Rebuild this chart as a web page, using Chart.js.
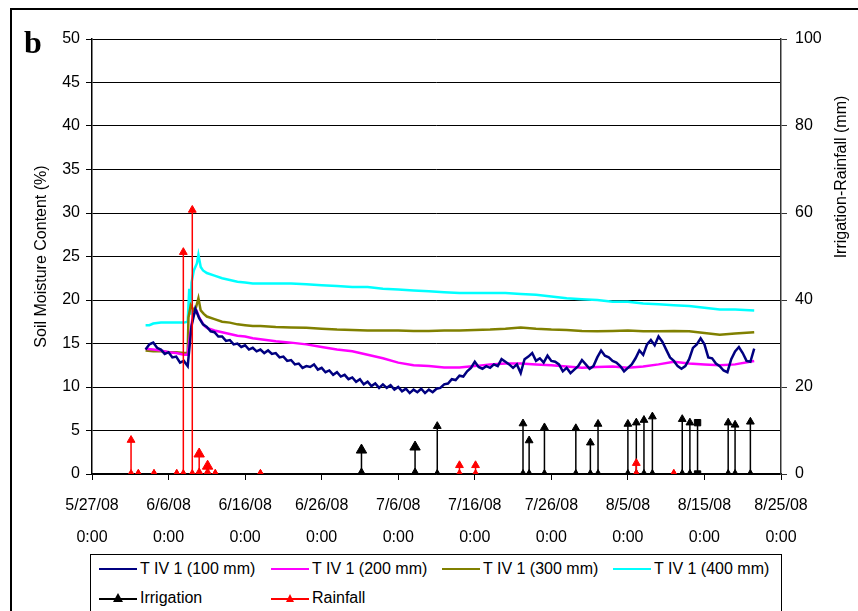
<!DOCTYPE html>
<html>
<head>
<meta charset="utf-8">
<script src="https://cdn.jsdelivr.net/npm/chart.js@4/dist/chart.umd.min.js"></script>
<style>
body { margin: 0; width: 858px; height: 611px; overflow: hidden; background: #fff; font-family: "Liberation Sans", Arial, sans-serif; }
#frame { position: absolute; left: 10px; top: 8px; width: 900px; height: 700px; border: 2px solid #000; }
#c { position: absolute; left: 0; top: 0; }
#tag { position: absolute; left: 24px; top: 24px; font: bold 32px "Liberation Serif", serif; }
#legend { position: absolute; left: 90px; top: 554px; width: 690px; height: 80px; border: 1px solid #000; background: #fff; }
.item { position: absolute; display: flex; align-items: center; font-size: 16px; transform: translateY(-50%); white-space: nowrap; }
.item svg { margin-right: 3px; }
</style>
</head>
<body>
<div id="frame"></div>
<canvas id="c" width="858" height="611"></canvas>
<div id="tag">b</div>
<div id="legend">
  <div class="item" style="left:8px;top:14px"><svg width="38" height="10"><line x1="0" y1="5" x2="38" y2="5" stroke="#000080" stroke-width="2"/></svg>T IV 1 (100 mm)</div>
  <div class="item" style="left:180px;top:14px"><svg width="38" height="10"><line x1="0" y1="5" x2="38" y2="5" stroke="#ff00ff" stroke-width="2"/></svg>T IV 1 (200 mm)</div>
  <div class="item" style="left:351px;top:14px"><svg width="38" height="10"><line x1="0" y1="5" x2="38" y2="5" stroke="#808000" stroke-width="2"/></svg>T IV 1 (300 mm)</div>
  <div class="item" style="left:522px;top:14px"><svg width="38" height="10"><line x1="0" y1="5" x2="38" y2="5" stroke="#00ffff" stroke-width="2"/></svg>T IV 1 (400 mm)</div>
  <div class="item" style="left:8px;top:43px"><svg width="38" height="12"><line x1="0" y1="7" x2="38" y2="7" stroke="#000" stroke-width="2"/><polygon points="19,1 24,10 14,10" fill="#000"/></svg>Irrigation</div>
  <div class="item" style="left:180px;top:43px"><svg width="38" height="12"><line x1="0" y1="7" x2="38" y2="7" stroke="#ff0000" stroke-width="2"/><polygon points="19,2 23,10 15,10" fill="#ff0000"/></svg>Rainfall</div>
</div>
<script>
// days counted from 5/27/08 0:00
const xTickDays = [0, 10, 20, 30, 40, 50, 60, 70, 80, 90];

// T IV 1 (100 mm): half-day readings starting at day 7
const d100Start = 7;
const d100Step = 0.5;
const d100Vals = [
  14.3, 14.9, 15.1, 14.5, 14.3, 13.8, 14.0, 13.4, 13.5, 12.8, 13.0, 12.4,
  17.0, 19.0, 17.9, 17.2, 16.9, 16.4, 16.3, 15.8, 15.8, 15.3, 15.4, 14.9,
  15.0, 14.6, 14.8, 14.3, 14.5, 14.1, 14.3, 13.9, 14.2, 13.8, 13.9, 13.4,
  13.5, 13.0, 13.1, 12.6, 12.7, 12.2, 12.4, 12.3, 12.6, 12.0, 12.2, 11.7,
  11.9, 11.4, 11.7, 11.2, 11.4, 10.9, 11.1, 10.6, 10.9, 10.3, 10.6, 10.1,
  10.4, 9.9, 10.3, 9.9, 10.2, 9.7, 10.0, 9.5, 9.8, 9.3, 9.7, 9.4,
  9.8, 9.3, 9.7, 9.4, 9.8, 9.9, 10.3, 10.4, 10.9, 10.8, 11.3, 11.2,
  11.8, 12.2, 12.9, 12.3, 12.1, 12.4, 12.2, 12.6, 12.4, 13.2, 12.9, 12.6,
  12.2, 12.6, 11.6, 13.2, 13.5, 13.9, 13.0, 13.3, 12.8, 13.6, 13.0, 12.9,
  12.6, 11.8, 12.2, 11.6, 12.0, 12.4, 13.1, 12.6, 12.1, 12.4, 13.4, 14.2,
  13.6, 13.4, 13.0, 12.8, 12.4, 11.8, 12.2, 12.6, 13.3, 14.2, 13.7, 14.9,
  15.4, 14.8, 15.8, 15.2, 14.3, 13.4, 13.0, 12.4, 12.1, 12.4, 13.2, 14.5,
  14.9, 15.6, 14.9, 13.4, 13.3, 12.7, 12.4, 11.9, 11.7, 13.2, 14.1, 14.6,
  13.9, 13.0, 12.9, 14.4
];

// T IV 1 (200 mm)
const d200Days = [7, 8, 9, 10, 11, 12, 12.5, 12.8, 13.2, 13.7, 14, 14.6, 15, 16, 17, 18, 19, 20, 21, 22, 24, 26, 28, 30, 32, 34, 36, 38, 40, 42, 44, 46, 48, 50, 52, 54, 56, 58, 60, 62, 64, 66, 68, 70, 72, 74, 76, 78, 80, 82, 84, 86.5];
const d200Vals = [14.4, 14.3, 14.2, 14.0, 13.9, 13.7, 13.7, 16.0, 18.3, 18.7, 18.0, 17.1, 16.8, 16.5, 16.3, 16.1, 15.9, 15.8, 15.6, 15.5, 15.25, 15.1, 14.9, 14.6, 14.3, 14.1, 13.7, 13.3, 12.8, 12.5, 12.4, 12.25, 12.25, 12.4, 12.6, 12.7, 12.7, 12.6, 12.5, 12.35, 12.2, 12.3, 12.35, 12.2, 12.35, 12.6, 12.9, 12.7, 12.6, 12.5, 12.6, 13.0];

// T IV 1 (300 mm)
const d300Days = [7, 8, 9, 10, 11, 12, 12.5, 12.6, 12.9, 13.3, 13.6, 13.9, 14.2, 14.6, 15, 16, 17, 18, 19, 20, 21, 22, 24, 26, 28, 30, 32, 34, 36, 38, 40, 42, 44, 46, 48, 50, 52, 54, 56, 58, 60, 62, 64, 66, 68, 70, 72, 74, 76, 78, 80, 82, 84, 86.5];
const d300Vals = [14.2, 14.1, 14.1, 14.0, 14.0, 13.9, 13.9, 18.0, 19.4, 18.8, 19.2, 20.2, 18.8, 18.4, 18.1, 17.8, 17.5, 17.4, 17.2, 17.1, 17.0, 17.0, 16.9, 16.85, 16.8, 16.7, 16.6, 16.55, 16.5, 16.5, 16.5, 16.45, 16.45, 16.5, 16.5, 16.55, 16.6, 16.7, 16.85, 16.7, 16.6, 16.55, 16.45, 16.4, 16.45, 16.5, 16.4, 16.4, 16.45, 16.4, 16.2, 16.0, 16.15, 16.3];

// T IV 1 (400 mm)
const d400Days = [7, 7.5, 8, 9, 10, 11, 12, 12.5, 12.7, 12.85, 13, 13.3, 13.7, 13.9, 14.2, 14.5, 15, 16, 17, 18, 19, 20, 21, 22, 24, 26, 28, 30, 32, 34, 36, 38, 40, 42, 44, 46, 48, 50, 52, 54, 56, 58, 60, 62, 64, 66, 68, 70, 72, 74, 76, 78, 80, 82, 84, 86.5];
const d400Vals = [17.1, 17.1, 17.3, 17.4, 17.4, 17.4, 17.4, 17.5, 21.3, 18.3, 22.0, 23.4, 24.2, 25.2, 23.8, 23.4, 23.1, 22.8, 22.5, 22.3, 22.1, 22.0, 21.9, 21.9, 21.9, 21.9, 21.8, 21.7, 21.6, 21.5, 21.5, 21.3, 21.2, 21.1, 21.0, 20.9, 20.8, 20.8, 20.8, 20.8, 20.7, 20.6, 20.4, 20.2, 20.1, 20.0, 19.8, 19.8, 19.6, 19.5, 19.4, 19.3, 19.1, 18.9, 18.9, 18.8];

// irrigation and rainfall events (mm, right axis)
const irrDays = [35.2, 42.2, 45.1, 56.3, 57.1, 59.1, 63.2, 65.1, 66.1, 70.0, 71.1, 72.1, 73.2, 77.1, 78.1, 79.1, 83.1, 84.0, 86.0];
const irrMm   = [5.5, 6.2, 11.0, 11.6, 7.7, 10.7, 10.5, 7.2, 11.5, 11.5, 11.8, 12.4, 13.2, 12.6, 11.8, 11.8, 11.8, 11.3, 12.0];
const rainDays = [5.1, 6.05, 8.1, 11.07, 11.93, 13.1, 14.0, 15.1, 16.1, 22.0, 48.0, 50.1, 71.1, 76.0];
const rainMm   = [7.8, 0, 0, 0, 51, 60.7, 4.6, 1.8, 0, 0, 2, 2, 2.5, 0];

const bigMarkerDays = [35.2, 42.2, 14.0, 15.1];
const squareMarkerDays = [79.1];

function series(days, vals) {
  return days.map((d, i) => ({ x: d, y: vals[i] }));
}

function stepSeries(start, step, vals) {
  return vals.map((v, i) => ({ x: start + i * step, y: v }));
}

// each event: stem from 0 up to the amount, then a gap
function stems(days, vals) {
  const pts = [];
  days.forEach((d, i) => {
    pts.push({ x: d, y: 0 }, { x: d, y: vals[i] }, { x: d, y: null });
  });
  return pts;
}

function dayLabel(v) {
  const d = new Date(2008, 4, 27 + v);
  return [(d.getMonth() + 1) + '/' + d.getDate() + '/08', '0:00'];
}

function markerRadius(ctx) {
  const p = ctx.raw;
  if (!p) return 0;
  return bigMarkerDays.includes(p.x) ? 6 : 4.5;
}

function markerStyle(ctx) {
  const p = ctx.raw;
  return p && squareMarkerDays.includes(p.x) ? 'rect' : 'triangle';
}

const rightTitle = {
  id: 'rightTitle',
  afterDraw(chart) {
    const ctx = chart.ctx;
    ctx.save();
    ctx.translate(842, 177);
    ctx.rotate(-Math.PI / 2);
    ctx.font = '16px "Liberation Sans"';
    ctx.fillStyle = '#000';
    ctx.textAlign = 'center';
    ctx.textBaseline = 'middle';
    ctx.fillText('Irrigation-Rainfall (mm)', 0, 0);
    ctx.restore();
  }
};

Chart.defaults.font.family = '"Liberation Sans", Arial, sans-serif';
Chart.defaults.color = '#000';

const lineStyle = { borderWidth: 2.5, pointRadius: 0, tension: 0, fill: false, yAxisID: 'y' };

new Chart(document.getElementById('c'), {
  type: 'line',
  data: {
    datasets: [
      Object.assign({ label: 'T IV 1 (100 mm)', data: stepSeries(d100Start, d100Step, d100Vals), borderColor: '#000080', order: 1 }, lineStyle),
      Object.assign({ label: 'T IV 1 (200 mm)', data: series(d200Days, d200Vals), borderColor: '#ff00ff', order: 2 }, lineStyle),
      Object.assign({ label: 'T IV 1 (300 mm)', data: series(d300Days, d300Vals), borderColor: '#808000', order: 3 }, lineStyle),
      Object.assign({ label: 'T IV 1 (400 mm)', data: series(d400Days, d400Vals), borderColor: '#00ffff', order: 4 }, lineStyle),
      {
        label: 'Irrigation', data: stems(irrDays, irrMm), yAxisID: 'y2', order: 5,
        borderColor: '#000', backgroundColor: '#000', borderWidth: 1.5,
        pointStyle: markerStyle, pointRadius: markerRadius, pointBorderWidth: 1,
        pointBorderColor: '#000', pointBackgroundColor: '#000', spanGaps: false
      },
      {
        label: 'Rainfall', data: stems(rainDays, rainMm), yAxisID: 'y2', order: 0,
        borderColor: '#ff0000', backgroundColor: '#ff0000', borderWidth: 1.5,
        pointStyle: 'triangle', pointRadius: markerRadius, pointBorderWidth: 1,
        pointBorderColor: '#ff0000', pointBackgroundColor: '#ff0000', spanGaps: false
      }
    ]
  },
  options: {
    responsive: false,
    animation: false,
    layout: { padding: { top: 39, left: 0, right: 0, bottom: 0 } },
    plugins: { legend: { display: false }, tooltip: { enabled: false } },
    scales: {
      x: {
        type: 'linear', min: 0, max: 90,
        afterBuildTicks: s => { s.ticks = xTickDays.map(v => ({ value: v })); },
        afterFit: s => { s.height = 137; },
        grid: { drawOnChartArea: false, tickLength: 6, color: '#000' },
        border: { color: '#000', width: 1.5 },
        ticks: { callback: v => dayLabel(v), font: { size: 16, lineHeight: 2 }, padding: 10, maxRotation: 0, autoSkip: false }
      },
      y: {
        position: 'left', min: 0, max: 50,
        afterFit: s => { s.width = 92; },
        grid: { color: '#000', tickLength: 6 },
        border: { color: '#000', width: 1.5 },
        ticks: { stepSize: 5, font: { size: 16 }, padding: 6 },
        title: { display: true, text: 'Soil Moisture Content (%)', font: { size: 16 }, padding: { top: 32, bottom: 0 } }
      },
      y2: {
        position: 'right', min: 0, max: 100,
        afterFit: s => { s.width = 77; },
        grid: { drawOnChartArea: false, tickLength: 6, color: '#333' },
        border: { color: '#333', width: 1.5 },
        ticks: { stepSize: 20, font: { size: 16 }, padding: 8 }
      }
    }
  },
  plugins: [rightTitle]
});
</script>
</body>
</html>
